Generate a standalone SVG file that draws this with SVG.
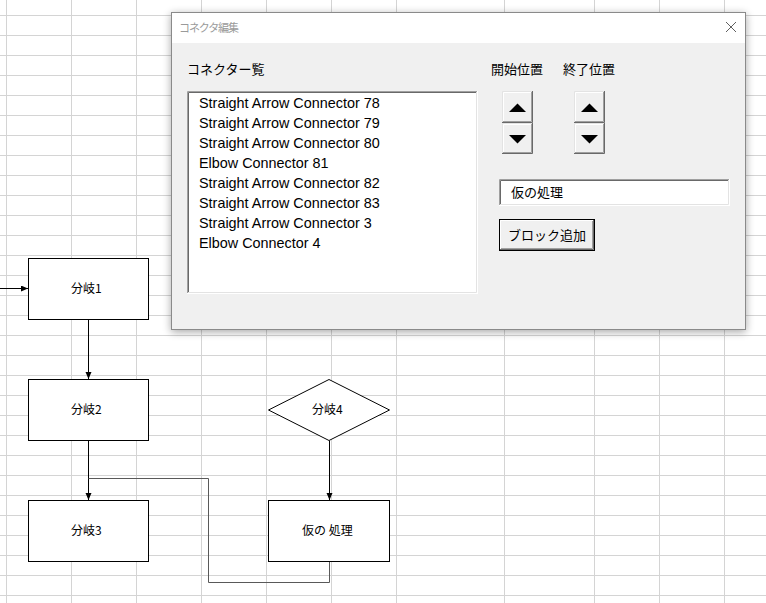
<svg xmlns="http://www.w3.org/2000/svg" width="766" height="603" viewBox="0 0 766 603">
<style>
.grid{stroke:#d4d4d4;stroke-width:1;fill:none}
.node{fill:#fff;stroke:#000;stroke-width:1}
.lbl{font-family:"Noto Sans CJK JP","Noto Sans CJK SC",sans-serif;font-size:12px;fill:#000}
.jp{font-family:"Noto Sans CJK JP","Noto Sans CJK SC",sans-serif;font-size:13px;fill:#000}
.item{font-family:"Liberation Sans",Arial,sans-serif;font-size:14.4px;fill:#000}
.conn{stroke:#000;stroke-width:1;fill:none}
.elbow{stroke:#595959;stroke-width:1;fill:none}
.face{fill:#f0f0f0}
.hl{stroke:#fff;fill:none}
.hl2{stroke:#e3e3e3;fill:none}
.sh{stroke:#a0a0a0;fill:none}
.dk{stroke:#696969;fill:none}
</style>
<defs>
<marker id="arr" markerUnits="userSpaceOnUse" markerWidth="8" markerHeight="7" refX="7" refY="3" orient="auto">
<path d="M0,0L7,3L0,6z" fill="#000"/>
</marker>
<filter id="shadow" x="-10%" y="-10%" width="120%" height="125%">
<feGaussianBlur stdDeviation="4"/>
</filter>
</defs>
<rect x="0" y="0" width="766" height="603" fill="#fff"/>
<g id="grid">
<path class="grid" d="M0,15.5H766M0,35.5H766M0,55.5H766M0,75.5H766M0,95.5H766M0,115.5H766M0,135.5H766M0,155.5H766M0,175.5H766M0,195.5H766M0,215.5H766M0,235.5H766M0,255.5H766M0,275.5H766M0,295.5H766M0,315.5H766M0,335.5H766M0,355.5H766M0,375.5H766M0,395.5H766M0,415.5H766M0,435.5H766M0,455.5H766M0,475.5H766M0,495.5H766M0,515.5H766M0,535.5H766M0,555.5H766M0,575.5H766M0,595.5H766"/>
<path class="grid" d="M6.5,0V603M71.5,0V603M136.5,0V603M201.5,0V603M266.5,0V603M331.5,0V603M396.5,0V603M504.5,0V603M594.5,0V603M659.5,0V603M724.5,0V603"/>
</g>
<g id="connectors">
<path class="conn" d="M0,288.5H28" marker-end="url(#arr)"/>
<path class="conn" d="M88.5,319.5V379" marker-end="url(#arr)"/>
<path class="conn" d="M88.5,440.5V500" marker-end="url(#arr)"/>
<path class="conn" d="M329.5,440.5V500" marker-end="url(#arr)"/>
<path class="elbow" d="M329.5,561.5V582.5H208.5V478.5H88.5"/>
</g>
<g id="node-bunki1">
<rect class="node" x="28.5" y="258.5" width="120" height="61"/>
<text class="lbl" x="71" y="293">分岐1</text>
</g>
<g id="node-bunki2">
<rect class="node" x="28.5" y="379.5" width="120" height="61"/>
<text class="lbl" x="71" y="414">分岐2</text>
</g>
<g id="node-bunki3">
<rect class="node" x="28.5" y="500.5" width="120" height="61"/>
<text class="lbl" x="71" y="535">分岐3</text>
</g>
<g id="node-bunki4">
<polygon class="node" points="329,379.5 389.5,410 329,440.5 268.5,410"/>
<text class="lbl" x="312" y="414">分岐4</text>
</g>
<g id="node-karinoshori">
<rect class="node" x="268.5" y="500.5" width="121" height="61"/>
<text class="lbl" x="302" y="535">仮の 処理</text>
</g>
<g id="dialog">
<rect x="171" y="14" width="575" height="318" fill="#000" opacity="0.35" filter="url(#shadow)"/>
<rect x="171.5" y="12.5" width="574" height="317" fill="#f0f0f0" stroke="#8a8a8a"/>
<rect x="172" y="13" width="573" height="30" fill="#fff"/>
<text x="179" y="32" font-family="'Noto Sans CJK JP',sans-serif" font-size="11" fill="#9a9a9a" textLength="60">コネクタ編集</text>
<path d="M726,22L736,32M736,22L726,32" stroke="#606060" stroke-width="1" fill="none"/>
<text class="jp" x="187" y="73.5">コネクター覧</text>
<text class="jp" x="491" y="73.5">開始位置</text>
<text class="jp" x="563" y="73.5">終了位置</text>
</g>
<g id="listbox">
<rect x="187" y="91" width="291" height="203" fill="#fff"/>
<path class="sh" d="M187.5,293V91.5H477"/>
<path class="dk" d="M188.5,292V92.5H476"/>
<path class="hl" d="M187,293.5H477.5V91"/>
<path class="hl2" d="M188,292.5H476.5V92"/>
<text class="item" x="199" y="107.5">Straight Arrow Connector 78</text>
<text class="item" x="199" y="127.5">Straight Arrow Connector 79</text>
<text class="item" x="199" y="147.5">Straight Arrow Connector 80</text>
<text class="item" x="199" y="167.5">Elbow Connector 81</text>
<text class="item" x="199" y="187.5">Straight Arrow Connector 82</text>
<text class="item" x="199" y="207.5">Straight Arrow Connector 83</text>
<text class="item" x="199" y="227.5">Straight Arrow Connector 3</text>
<text class="item" x="199" y="247.5">Elbow Connector 4</text>
</g>
<g id="spin-start">
<rect class="face" x="502" y="91" width="31" height="32"/>
<path class="hl2" d="M502.5,122V91.5H532"/>
<path class="dk" d="M502,122.5H532.5V91"/>
<path class="hl" d="M503.5,121V92.5H531"/>
<path class="sh" d="M503,121.5H531.5V92"/>
<polygon points="509,112 526,112 517.5,103.5" fill="#000"/>
<rect class="face" x="502" y="123" width="31" height="31"/>
<path class="hl2" d="M502.5,153V123.5H532"/>
<path class="dk" d="M502,153.5H532.5V123"/>
<path class="hl" d="M503.5,152V124.5H531"/>
<path class="sh" d="M503,152.5H531.5V124"/>
<polygon points="509,135 526,135 517.5,143.5" fill="#000"/>
</g>
<g id="spin-end">
<rect class="face" x="574" y="91" width="31" height="32"/>
<path class="hl2" d="M574.5,122V91.5H604"/>
<path class="dk" d="M574,122.5H604.5V91"/>
<path class="hl" d="M575.5,121V92.5H603"/>
<path class="sh" d="M575,121.5H603.5V92"/>
<polygon points="581,112 598,112 589.5,103.5" fill="#000"/>
<rect class="face" x="574" y="123" width="31" height="31"/>
<path class="hl2" d="M574.5,153V123.5H604"/>
<path class="dk" d="M574,153.5H604.5V123"/>
<path class="hl" d="M575.5,152V124.5H603"/>
<path class="sh" d="M575,152.5H603.5V124"/>
<polygon points="581,135 598,135 589.5,143.5" fill="#000"/>
</g>
<g id="textbox">
<rect x="499" y="179" width="231" height="27" fill="#fff"/>
<path class="sh" d="M499.5,205V179.5H729"/>
<path class="dk" d="M500.5,204V180.5H728"/>
<path class="hl" d="M499,205.5H729.5V179"/>
<path class="hl2" d="M500,204.5H728.5V180"/>
<text class="jp" x="511" y="197">仮の処理</text>
</g>
<g id="button-add">
<rect x="499.5" y="219.5" width="95" height="31" fill="#f0f0f0" stroke="#000"/>
<path class="hl" d="M500.5,249V220.5H593"/>
<path class="dk" d="M500,249.5H593.5V220"/>
<path class="sh" d="M501,248.5H592.5V221"/>
<text class="jp" x="508" y="239.5">ブロック追加</text>
</g>
</svg>
